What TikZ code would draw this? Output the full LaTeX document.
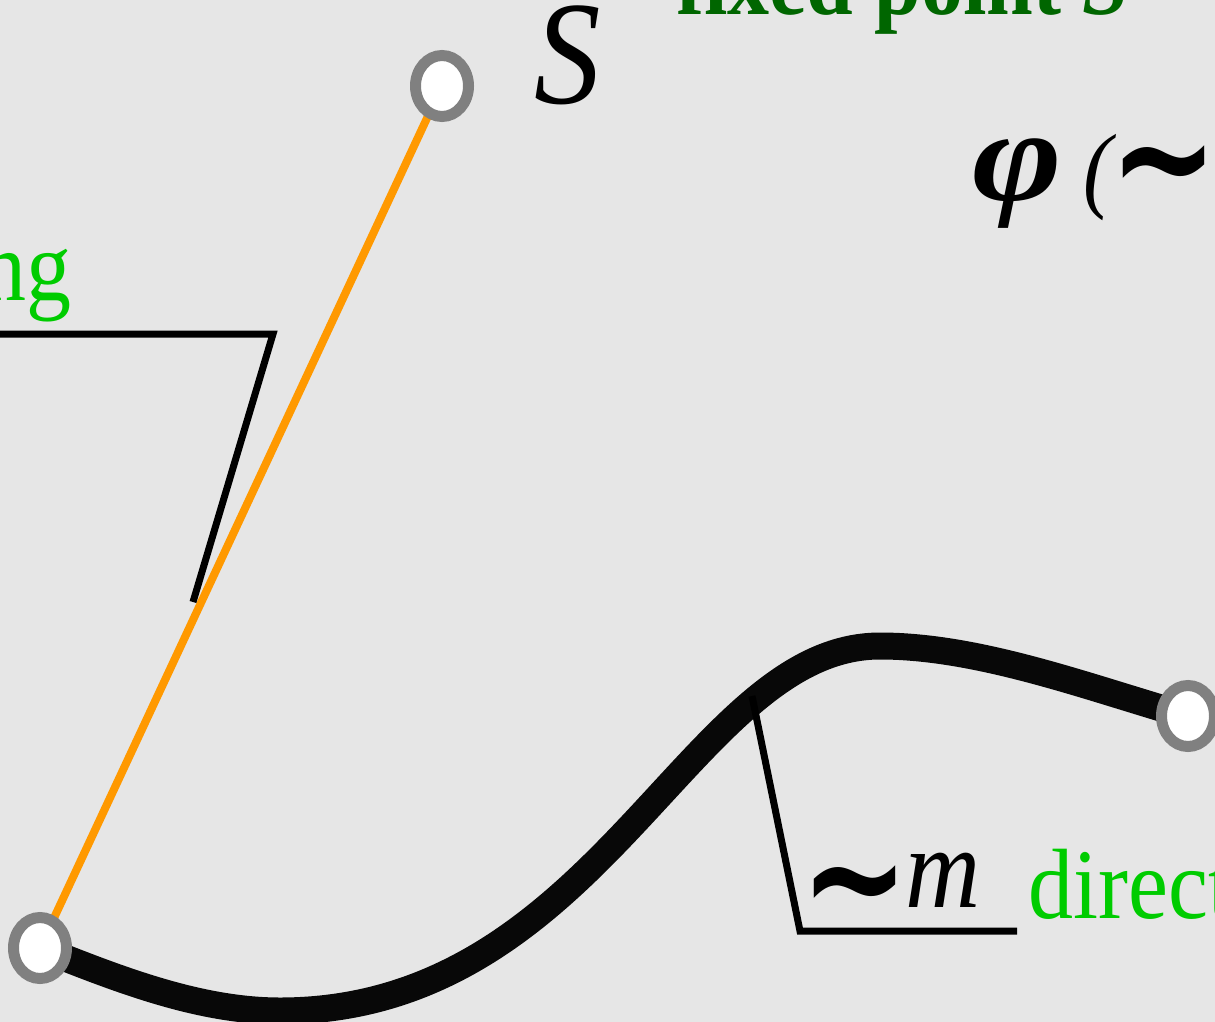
\documentclass[tikz,border=0pt]{standalone}
\usepackage{fontspec}
\setmainfont{Liberation Serif}
\newfontfamily\wavefont{DejaVu Sans}
\usepackage{graphicx}
\usetikzlibrary{shapes.geometric}

\begin{document}
\begin{tikzpicture}[
    x=1pt, y=-1pt,
    % Styles
    joint/.style={ellipse, draw=ringColor, fill=white, line width=11pt,
        minimum width=53pt, minimum height=61pt, inner sep=0pt},
    string/.style={stringColor, line width=8pt},
    rod/.style={rodColor, line width=27pt},
    pointer/.style={black, line width=7pt},
    greenLabel/.style={text=nameGreen, font=\fontsize{90}{96}\selectfont, inner sep=0pt},
    mathLabel/.style={text=black, inner sep=0pt}
    ]

    % Parameters
    \def\stretch{1.11}
    \def\W{1215}
    \def\H{1022}
    % tilde of a vector
    \def\vtilde#1{\raisebox{#1}{\scalebox{1.3}[1.45]{\wavefont\bfseries\fontsize{100}{100}\selectfont\textasciitilde}}}

    % Colors
    \definecolor{bgColor}{HTML}{E6E6E6}
    \definecolor{ringColor}{HTML}{808080}
    \definecolor{stringColor}{HTML}{FF9900}
    \definecolor{rodColor}{HTML}{080808}
    \definecolor{nameGreen}{HTML}{00CC00}
    \definecolor{fixedGreen}{HTML}{006600}

    % Frame
    \useasboundingbox (0,0) rectangle (\W,\H);
    \clip (0,0) rectangle (\W,\H);
    \fill[bgColor] (0,0) rectangle (\W,\H);

    % Coordinates
    \coordinate (A)  at (40,948);
    \coordinate (S)  at (442,86);
    \coordinate (B)  at (1188,716);
    \coordinate (rodLow)  at (280,1011);
    \coordinate (rodHigh) at (880,646);

    \coordinate (stringTail) at (-20,334);
    \coordinate (stringKnee) at (273,334);
    \coordinate (stringTip)  at (193,602);

    \coordinate (mTip)  at (752,696);
    \coordinate (mKnee) at (800,931);
    \coordinate (mEnd)  at (1017,931);

    % String from the joint to the fixed point
    \draw[string] (A) -- (S);

    % Rod
    \draw[rod] (A) .. controls (120,980) and (200,1011) .. (rodLow)
        .. controls (600,1011) and (690,646) .. (rodHigh)
        .. controls (980,646) and (1090,688) .. (B);

    % Pointers
    \draw[pointer] (stringTail) -- (stringKnee) -- (stringTip);
    \draw[pointer] (mTip) -- (mKnee) -- (mEnd);

    % Joints
    \node[joint] (nA) at (A) {};
    \node[joint] (nS) at (S) {};
    \node[joint] (nB) at (B) {};

    % Labels
    \node[greenLabel, text=fixedGreen, font=\fontsize{84}{90}\selectfont, anchor=base west] (lFixed) at (676,15)
        {\scalebox{1}[\stretch]{\bfseries fixed point \textit{S}}};
    \node[mathLabel, anchor=base west] (lS) at (534,104)
        {\scalebox{1}[\stretch]{\fontsize{133}{140}\selectfont\itshape S}};
    \node[mathLabel, anchor=base west] (lPhi) at (972,200)
        {\scalebox{1}[\stretch]{\scalebox{1.3}[1]{\fontsize{118}{120}\selectfont\bfseries\itshape φ}\hspace{22pt}%
        {\fontsize{86}{90}\selectfont\itshape (}\hspace{-3pt}\vtilde{-11pt}\hspace{6pt}%
        {\fontsize{100}{100}\selectfont\itshape n)}}};
    \node[greenLabel, anchor=base east] (lString) at (72,300)
        {\scalebox{1}[\stretch]{string}};
    \node[mathLabel, anchor=base west] (lM) at (800,907)
        {\scalebox{1}[\stretch]{\vtilde{-23pt}\hspace{-4pt}{\fontsize{104}{110}\selectfont\itshape m}}};
    \node[greenLabel, anchor=base west] (lDir) at (1028,918)
        {\scalebox{1}[\stretch]{direction}};
\end{tikzpicture}
\end{document}
